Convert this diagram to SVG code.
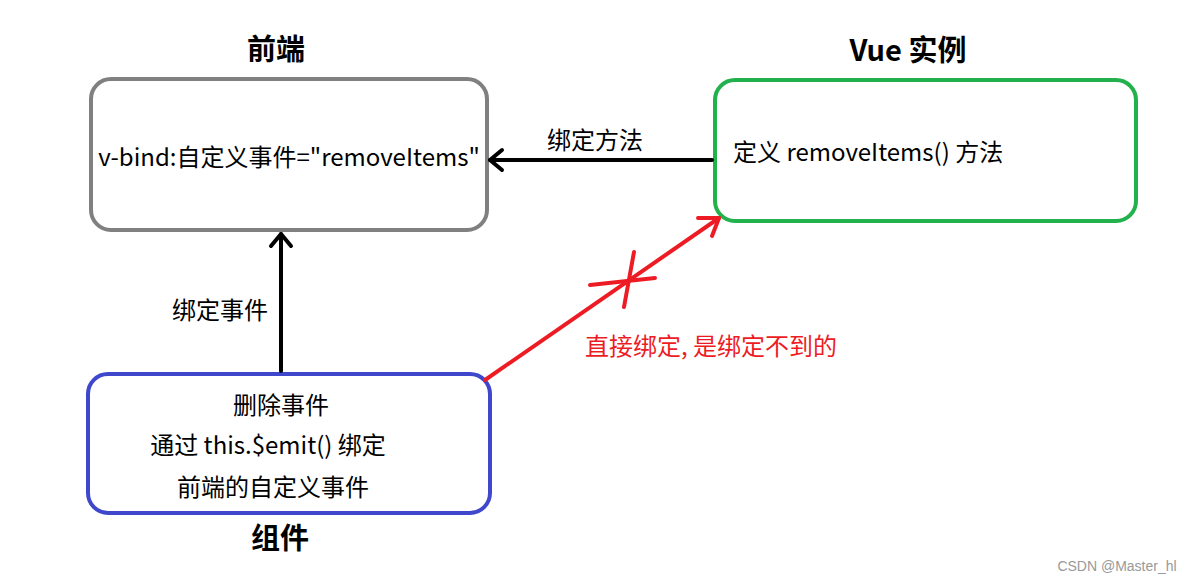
<svg xmlns="http://www.w3.org/2000/svg" width="1192" height="581" viewBox="0 0 1192 581">
<style>
.t{font-family:"Noto Sans CJK SC","Microsoft YaHei",sans-serif;font-size:24px;fill:#000}
.b{font-family:"Noto Sans CJK SC",sans-serif;font-size:29px;font-weight:bold;fill:#000}
.box{fill:#fff;stroke-width:4}
.k{stroke:#000;stroke-width:4;fill:none;stroke-linecap:round;stroke-linejoin:round}
.r{stroke:#ed1c24;stroke-width:4;fill:none;stroke-linecap:round;stroke-linejoin:round}
</style>
<rect width="1192" height="581" fill="#fff"/>
<g id="frontend">
<rect class="box" x="91" y="79" width="396" height="151" rx="20" stroke="#808080"/>
<text class="b" x="276" y="60" text-anchor="middle">前端</text>
<text class="t" x="289" y="166" text-anchor="middle">v-bind:自定义事件="removeItems"</text>
</g>
<g id="vue">
<rect class="box" x="715" y="80" width="421" height="141" rx="20" stroke="#22b14c"/>
<text class="b" x="908" y="61" text-anchor="middle">Vue 实例</text>
<text class="t" x="733" y="161">定义 removeItems() 方法</text>
</g>
<g id="component">
<rect class="box" x="88" y="374" width="402" height="139" rx="20" stroke="#3f48cc"/>
<text class="b" x="280" y="549" text-anchor="middle">组件</text>
<text class="t" x="281" y="414" text-anchor="middle">删除事件</text>
<text class="t" x="268" y="454" text-anchor="middle">通过 this.$emit() 绑定</text>
<text class="t" x="273" y="496" text-anchor="middle">前端的自定义事件</text>
</g>
<g id="connectors">
<line class="k" x1="712" y1="160" x2="490" y2="160"/>
<polyline class="k" points="502,150 490,160 502,170"/>
<text class="t" x="595" y="149" text-anchor="middle">绑定方法</text>
<line class="k" x1="281" y1="371" x2="281" y2="234"/>
<polyline class="k" points="271,246 281,234 291,246"/>
<text class="t" x="220" y="319" text-anchor="middle">绑定事件</text>
<line class="r" x1="485" y1="380" x2="719" y2="218"/>
<polyline class="r" points="698,218 719,218 712,236"/>
<line class="r" x1="590" y1="285" x2="655" y2="278"/>
<line class="r" x1="634" y1="252" x2="624" y2="307"/>
<text class="t" x="711" y="355" text-anchor="middle" style="fill:#ed1c24">直接绑定, 是绑定不到的</text>
</g>
<text x="1117" y="571" text-anchor="middle" font-family="Liberation Sans, sans-serif" font-size="14" fill="#999">CSDN @Master_hl</text>
</svg>
